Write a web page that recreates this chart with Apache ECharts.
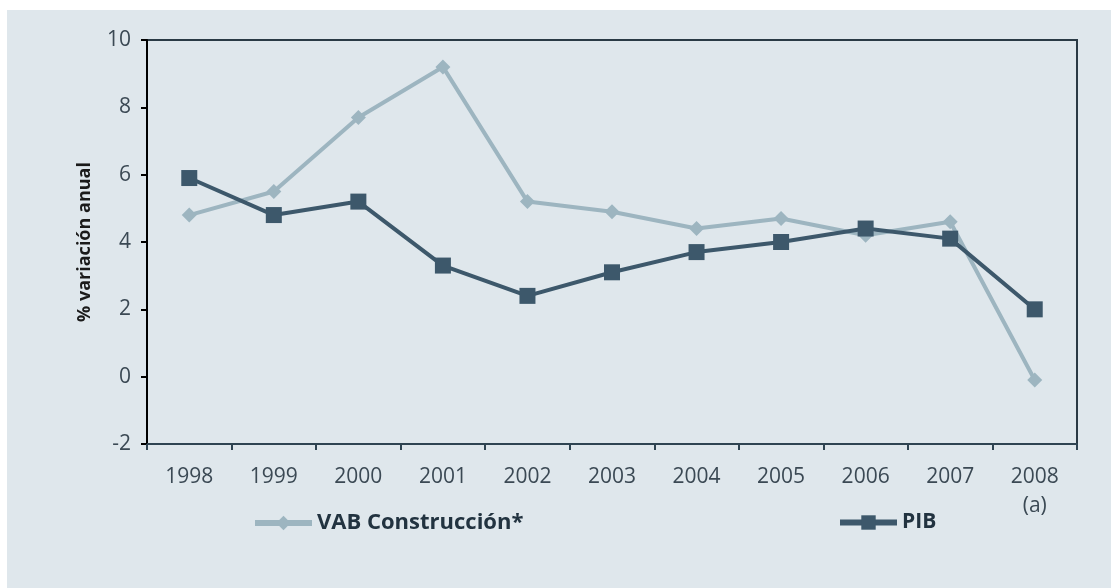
<!DOCTYPE html>
<html>
<head>
<meta charset="utf-8">
<script src="https://cdn.jsdelivr.net/npm/echarts@6/dist/echarts.min.js"></script>
<style>
  html, body { margin: 0; padding: 0; background: #ffffff; }
  #chart { width: 1111px; height: 588px; }
</style>
</head>
<body>
<div id="chart"></div>
<script>
// datos
var years = ['1998', '1999', '2000', '2001', '2002', '2003', '2004', '2005', '2006', '2007', '2008\n(a)']
var vab = [4.8, 5.5, 7.7, 9.2, 5.2, 4.9, 4.4, 4.7, 4.2, 4.6, -0.1]
var pib = [5.9, 4.8, 5.2, 3.3, 2.4, 3.1, 3.7, 4.0, 4.4, 4.1, 2.0]

var textColor = '#3b4954'
var font = '"Open Sans", sans-serif'

var chart = echarts.init(document.getElementById('chart'))
var option = {
  animation: false,
  graphic: [
    {
      type: 'rect',
      z: -10,
      shape: { x: 7, y: 10, width: 1104, height: 578 },
      style: { fill: '#dfe7ec' }
    }
  ],
  grid: {
    left: 147,
    right: 34,
    top: 40,
    bottom: 144,
    show: true,
    backgroundColor: 'transparent',
    borderColor: '#2a3a45',
    borderWidth: 2
  },
  legend: [
    {
      data: ['VAB Construcción*'],
      left: 247,
      top: 507,
      itemWidth: 57,
      itemHeight: 18,
      itemGap: 6,
      lineStyle: { width: 6 },
      textStyle: { color: '#223340', fontWeight: 'bold', fontSize: 22, fontFamily: font }
    },
    {
      data: ['PIB'],
      left: 832,
      top: 507,
      itemWidth: 57,
      itemHeight: 18,
      lineStyle: { width: 6 },
      textStyle: { color: '#223340', fontWeight: 'bold', fontSize: 21, fontFamily: font }
    }
  ],
  xAxis: {
    type: 'category',
    data: years,
    boundaryGap: true,
    axisLine: { onZero: false, lineStyle: { color: '#2f4452', width: 2 } },
    axisTick: { show: true, length: 6, lineStyle: { color: '#2f4452', width: 2 } },
    axisLabel: { color: textColor, fontSize: 21, fontFamily: font, margin: 19, lineHeight: 29 }
  },
  yAxis: {
    type: 'value',
    min: -2,
    max: 10,
    interval: 2,
    name: '% variación anual',
    nameLocation: 'middle',
    nameGap: 53,
    nameTextStyle: { color: '#1a1a1a', fontWeight: 'bold', fontSize: 18, fontFamily: font },
    splitLine: { show: false },
    axisLine: { show: true, lineStyle: { color: '#000', width: 2 } },
    axisTick: { show: true, length: 6, lineStyle: { color: '#000', width: 2 } },
    axisLabel: { color: textColor, fontSize: 21, fontFamily: font, margin: 16 }
  },
  series: [
    {
      name: 'VAB Construcción*',
      type: 'line',
      data: vab,
      symbol: 'diamond',
      symbolSize: 15,
      lineStyle: { color: '#9db5c0', width: 4 },
      itemStyle: { color: '#9db5c0' }
    },
    {
      name: 'PIB',
      type: 'line',
      data: pib,
      symbol: 'rect',
      symbolSize: 16,
      lineStyle: { color: '#3d586b', width: 4 },
      itemStyle: { color: '#3d586b' }
    }
  ]
}
chart.setOption(option)
</script>
</body>
</html>
